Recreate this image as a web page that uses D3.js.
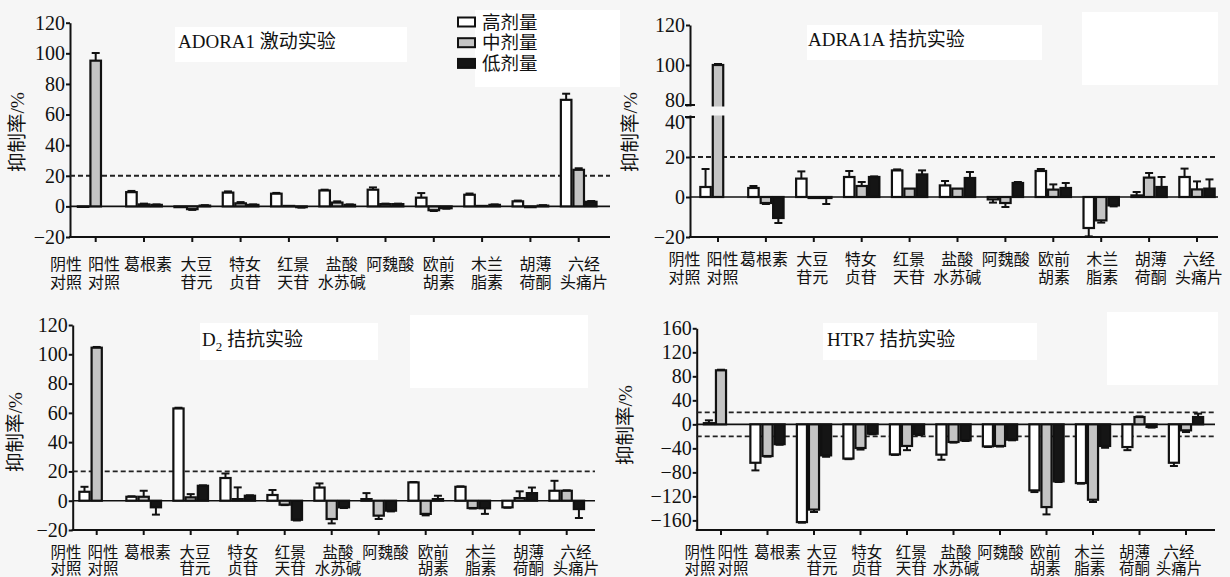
<!DOCTYPE html>
<html>
<head>
<meta charset="utf-8">
<script src="https://cdn.jsdelivr.net/npm/d3@7"></script>
<style>
  body { margin: 0; background: #f6f6f6; }
  text { font-family: "Liberation Serif", "Noto Sans CJK SC", serif; fill: #111; }
</style>
</head>
<body>
<div id="chart"></div>
<script>
// categories
const groups = ['对照', '葛根素', '大豆苷元', '特女贞苷', '红景天苷', '盐酸水苏碱', '阿魏酸', '欧前胡素', '木兰脂素', '胡薄荷酮', '六经头痛片'];
const groupLabels = [['阴性', '对照'], ['阳性', '对照'], ['葛根素'], ['大豆', '苷元'], ['特女', '贞苷'], ['红景', '天苷'],
  ['盐酸', '水苏碱'], ['阿魏酸'], ['欧前', '胡素'], ['木兰', '脂素'], ['胡薄', '荷酮'], ['六经', '头痛片']];
const doses = ['高剂量', '中剂量', '低剂量'];

// ADORA1 激动实验
const adora1High = [-0.3, 9.3, -0.5, 9, 8.3, 10.4, 10.9, 5.7, 7.6, 3.3, 69.6];
const adora1HighErr = [0, 0.8, 0, 0.8, 0.5, 0.5, 1.5, 3, 0.8, 0.5, 4];
const adora1Mid = [95.2, 1.3, -1.8, 2, 0.3, 2.5, 1.5, -2.5, 0.3, -0.5, 23.9];
const adora1MidErr = [5, 0.5, 0.5, 0.8, 0, 0.8, 0.3, 0.5, 0, 0, 1];
const adora1Low = [null, 1, 0.5, 1, -0.5, 1, 1.5, -1.2, 1, 0.5, 3];
const adora1LowErr = [0, 0.3, 0.3, 0.3, 0.3, 0.3, 0.3, 0.3, 0.3, 0.3, 0.5];

// ADRA1A 拮抗实验
const adra1aHigh = [5, 4.5, 9.2, 10, 13.3, 5.8, -1.2, 13, -15.5, 0.8, 10];
const adra1aHighErr = [9, 1, 3.6, 3, 0.5, 2.2, 1.6, 1, 4.2, 1.7, 4.2];
const adra1aMid = [100, -3, -0.5, 5.5, 4.2, 4.2, -3, 3.7, -11.7, 9.7, 3.8];
const adra1aMidErr = [0.5, 0.5, 0, 2, 0, 0, 2, 2.6, 1.1, 2.3, 4];
const adra1aLow = [null, -10.5, -0.5, 10, 11.3, 9.5, 7, 4.5, -4.2, 5, 4.2];
const adra1aLowErr = [0, 2.5, 3, 0.3, 2, 3, 0.5, 2.5, 0.5, 5, 4.6];

// D2 拮抗实验
const d2High = [6.1, 2.7, 63, 15.5, 3.9, 9, 1.1, 12.5, 9.5, -4.5, 6.8];
const d2HighErr = [3.4, 0.3, 0.5, 3.1, 3.4, 2.8, 4.1, 0.3, 0.3, 0.3, 6.8];
const d2Mid = [104.5, 2.7, 2.3, 1.1, -2.7, -12.5, -10.2, -9, -5, 1.8, 6.8];
const d2MidErr = [0.5, 4.1, 2.2, 8, 0.3, 3, 2.3, 1, 0.3, 4.6, 0.3];
const d2Low = [null, -4.5, 10.2, 3.4, -13, -4.5, -6.8, 1.1, -5.2, 5.2, -5.7];
const d2LowErr = [0, 5, 0.3, 0.3, 0.5, 0.5, 0.5, 2.3, 3.8, 3.8, 6.1];

// HTR7 拮抗实验
const htr7High = [2, -64, -162.8, -57, -50, -50.5, -36.7, -110, -97.8, -37.8, -64];
const htr7HighErr = [4.7, 12.7, 1, 1, 1, 8.5, 1, 2.8, 1, 5.2, 5.4];
const htr7Mid = [90, -52.8, -142, -39.4, -36, -29.4, -36, -137.8, -125.6, 12.2, -10];
const htr7MidErr = [1, 1, 4, 2.6, 7, 1, 1, 12.2, 3.8, 1, 2.8];
const htr7Low = [null, -33, -51.7, -15.6, -16.7, -26.7, -25.6, -95, -36, -4.4, 12.2];
const htr7LowErr = [0, 1, 2.3, 1, 1.3, 1, 1, 1, 3, 1, 5.6];

const adora1Ticks = [-20, 0, 20, 40, 60, 80, 100, 120];
const adra1aTicks = [-20, 0, 20, 40, 80, 100, 120];
const d2Ticks = [-20, 0, 20, 40, 60, 80, 100, 120];
const htr7Ticks = [-160, -120, -80, -40, 0, 40, 80, 120, 160];

const fills = ['#ffffff', '#c4c4c4', '#151515'];
const bg = '#f6f6f6';

const svg = d3.select('#chart').append('svg')
  .attr('width', 1230)
  .attr('height', 577);

svg.append('rect').attr('width', 1230).attr('height', 577).attr('fill', bg);

function fmt(d) { return d < 0 ? '\u2212' + Math.abs(d) : d; }

function drawPanel(p) {
  // white boxes (title / legend area)
  p.boxes.forEach(b => {
    svg.append('rect').attr('x', b[0]).attr('y', b[1]).attr('width', b[2]).attr('height', b[3]).attr('fill', '#fff');
  });

  const x = d3.scaleBand()
    .domain(groups)
    .range([p.first - p.step / 2, p.first - p.step / 2 + p.step * groups.length]);
  const y = d3.scaleLinear().domain(p.yDomain).range(p.yRange);
  const slot = p.step * 0.26;
  const cx = g => x(g) + x.bandwidth() / 2;

  // y axis
  const yAxis = svg.append('g')
    .attr('transform', `translate(${p.axisX},0)`)
    .call(d3.axisLeft(y).tickValues(p.ticks).tickSize(4).tickSizeOuter(0).tickFormat(fmt));
  yAxis.select('.domain').attr('stroke-width', 2).attr('stroke', '#111');
  yAxis.selectAll('.tick line').attr('stroke-width', 2).attr('stroke', '#111');
  yAxis.selectAll('.tick text').attr('font-size', 20).attr('x', -5).style('font-family', 'Liberation Serif')
    .attr('dy', d => (p.tickShift && p.tickShift[d] !== undefined) ? p.tickShift[d] + 'px' : '0.32em');

  const yMin = p.yRange[0];
  // x axis line and ticks
  svg.append('line').attr('x1', p.axisX - 1).attr('x2', p.right).attr('y1', yMin).attr('y2', yMin)
    .attr('stroke', '#111').attr('stroke-width', 2);
  const xAxis = svg.append('g')
    .attr('transform', `translate(0,${yMin})`)
    .call(d3.axisBottom(x).tickSize(5).tickFormat(''));
  xAxis.select('.domain').remove();
  xAxis.selectAll('.tick line').attr('stroke-width', 2).attr('stroke', '#111');

  // reference lines
  p.dashed.forEach(v => {
    svg.append('line').attr('x1', p.axisX).attr('x2', p.right).attr('y1', y(v)).attr('y2', y(v))
      .attr('stroke', '#222').attr('stroke-width', 1.8).attr('stroke-dasharray', '5,3');
  });
  svg.append('line').attr('x1', p.axisX).attr('x2', p.right).attr('y1', y(0)).attr('y2', y(0))
    .attr('stroke', '#111').attr('stroke-width', 1.6);

  // bars
  p.series.forEach((vals, si) => {
    vals.forEach((v, gi) => {
      if (v === null) return;
      const g = groups[gi];
      const bx = cx(g) + (si - 1) * slot - slot / 2;
      const y0 = y(0), y1 = y(v);
      const e = p.errs[si][gi];
      if (e > 0) {
        const ye = y(v + (v >= 0 ? e : -e));
        svg.append('line').attr('x1', bx + slot / 2).attr('x2', bx + slot / 2).attr('y1', y1).attr('y2', ye)
          .attr('stroke', '#111').attr('stroke-width', 2);
        svg.append('line').attr('x1', bx + slot / 2 - 4).attr('x2', bx + slot / 2 + 4).attr('y1', ye).attr('y2', ye)
          .attr('stroke', '#111').attr('stroke-width', 2);
      }
      svg.append('rect')
        .attr('x', bx + 1)
        .attr('y', Math.min(y0, y1))
        .attr('width', slot - 2)
        .attr('height', Math.max(Math.abs(y1 - y0), 0.5))
        .attr('fill', fills[si])
        .attr('stroke', '#111')
        .attr('stroke-width', 2.2);
    });
  });

  // axis break
  if (p.breakGap) {
    const [b1, b2] = p.breakGap;
    svg.append('rect').attr('x', p.axisX - 1.5).attr('y', b1 + 1.5).attr('width', p.right - p.axisX + 2)
      .attr('height', b2 - b1 - 3).attr('fill', bg);
    [b1, b2].forEach(b => {
      svg.append('line').attr('x1', p.axisX - 5).attr('x2', p.axisX + 5).attr('y1', b).attr('y2', b)
        .attr('stroke', '#111').attr('stroke-width', 2);
    });
  }

  // category labels: controls placed by hand, the rest spread between two anchors
  const c1 = cx(groups[1]), cN = cx(groups[groups.length - 1]);
  groupLabels.forEach((lines, li) => {
    let lx;
    if (li === 0) lx = p.labels.neg;
    else if (li === 1) lx = p.labels.pos;
    else lx = p.labels.first + (cx(groups[li - 1]) - c1) / (cN - c1) * (p.labels.last - p.labels.first);
    lines.forEach((t, k) => {
      svg.append('text')
        .attr('x', lx).attr('y', p.labelY + k * p.lineGap)
        .attr('text-anchor', 'middle')
        .attr('font-size', p.labelSize)
        .text(t);
    });
  });

  // y title
  svg.append('text')
    .attr('transform', `translate(${p.ylabelX},${p.ylabelY}) rotate(-90)`)
    .attr('text-anchor', 'middle')
    .attr('dominant-baseline', 'middle')
    .attr('font-size', 19.5)
    .text('抑制率/%');

  // panel title
  const t = svg.append('text').attr('x', p.titleX).attr('y', p.titleY).attr('font-size', 19);
  p.title.forEach(part => {
    const ts = t.append('tspan').text(part.t);
    if (part.sub) ts.attr('font-size', 13).attr('dy', 5);
    if (part.after) ts.attr('dy', -5);
  });
}

const panels = [
  { axisX: 70, first: 95.7, step: 48.3, right: 610, yDomain: [-20, 120], yRange: [237, 22.7], ticks: adora1Ticks,
    dashed: [20], series: [adora1High, adora1Mid, adora1Low], errs: [adora1HighErr, adora1MidErr, adora1LowErr],
    labelY: 269.5, lineGap: 18.4, labelSize: 16, labels: { neg: 66, pos: 104, first: 148, last: 584 },
    ylabelX: 20, ylabelY: 132,
    title: [{ t: 'ADORA1 激动实验' }], titleX: 178, titleY: 48,
    boxes: [[175, 27, 232, 35], [475, 10, 145, 77]] },
  { axisX: 690, first: 718, step: 47.9, right: 1218, yDomain: [-20, 40, 80, 120], yRange: [237, 117, 105, 25], ticks: adra1aTicks,
    tickShift: { 80: 1, 40: 11 },
    dashed: [20], series: [adra1aHigh, adra1aMid, adra1aLow], errs: [adra1aHighErr, adra1aMidErr, adra1aLowErr],
    labelY: 264.5, lineGap: 18.4, labelSize: 16, labels: { neg: 684.5, pos: 722.5, first: 764, last: 1199 },
    ylabelX: 633, ylabelY: 132, breakGap: [105, 117],
    title: [{ t: 'ADRA1A 拮抗实验' }], titleX: 808, titleY: 46,
    boxes: [[807, 25, 235, 35], [1082, 12, 136, 73]] },
  { axisX: 72.7, first: 96.7, step: 47, right: 595, yDomain: [-20, 120], yRange: [530, 325], ticks: d2Ticks,
    dashed: [20], series: [d2High, d2Mid, d2Low], errs: [d2HighErr, d2MidErr, d2LowErr],
    labelY: 557.5, lineGap: 16.5, labelSize: 15.5, labels: { neg: 66, pos: 103, first: 147.5, last: 576 },
    ylabelX: 18, ylabelY: 432,
    title: [{ t: 'D' }, { t: '2', sub: true }, { t: ' 拮抗实验', after: true }], titleX: 202, titleY: 346,
    boxes: [[200, 323, 178, 37], [410, 315, 178, 73]] },
  { axisX: 696.7, first: 721, step: 46.5, right: 1215, yDomain: [-176, 160], yRange: [530, 328.3], ticks: htr7Ticks,
    dashed: [20, -20], series: [htr7High, htr7Mid, htr7Low], errs: [htr7HighErr, htr7MidErr, htr7LowErr],
    labelY: 557.5, lineGap: 16.5, labelSize: 15.5, labels: { neg: 700, pos: 733, first: 777.5, last: 1179 },
    ylabelX: 628, ylabelY: 425,
    title: [{ t: 'HTR7 拮抗实验' }], titleX: 827, titleY: 346,
    boxes: [[823, 323, 214, 37], [1107, 312, 111, 73]] }
];

panels.forEach(drawPanel);

// legend (first panel)
const legend = svg.append('g').attr('transform', 'translate(458,22)');
doses.forEach((d, i) => {
  legend.append('rect')
    .attr('x', 0).attr('y', i * 20.7 - 4.5)
    .attr('width', 17).attr('height', 9)
    .attr('fill', fills[i]).attr('stroke', '#111').attr('stroke-width', 2);
  legend.append('text')
    .attr('x', 24).attr('y', i * 20.7 + 6.5)
    .attr('font-size', 18.5)
    .text(d);
});
</script>
</body>
</html>
